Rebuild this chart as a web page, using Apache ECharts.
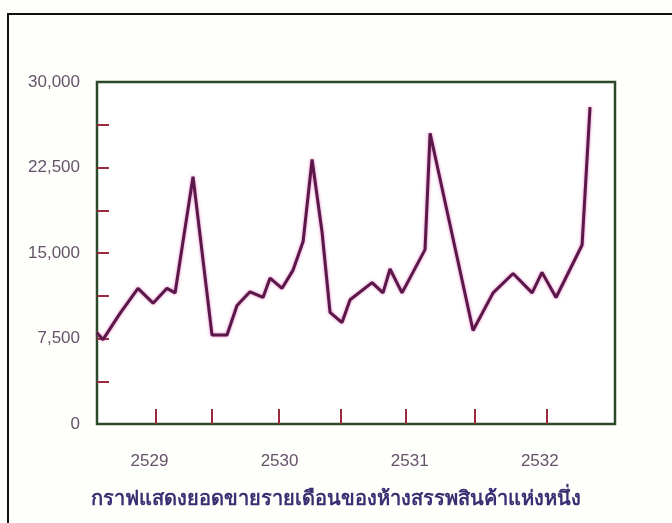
<!DOCTYPE html>
<html>
<head>
<meta charset="utf-8">
<script src="https://cdn.jsdelivr.net/npm/echarts@6/dist/echarts.min.js"></script>
<style>
  html, body { margin: 0; padding: 0; background: #fefefb; }
  #chart { width: 672px; height: 523px; }
</style>
</head>
<body>
<div id="chart"></div>
<script>
// Monthly sales, position along the time axis in Buddhist-era years
const months = [
  2528.597, 2528.643, 2528.774, 2528.912, 2529.028, 2529.135, 2529.197, 2529.335,
  2529.481, 2529.596, 2529.673, 2529.773, 2529.873, 2529.927, 2530.019, 2530.104,
  2530.181, 2530.250, 2530.327, 2530.388, 2530.480, 2530.542, 2530.711, 2530.795,
  2530.849, 2530.941, 2531.118, 2531.157, 2531.487, 2531.641, 2531.795, 2531.941,
  2532.017, 2532.125, 2532.325, 2532.386
];
const sales = [
  8000, 7400, 9700, 11900, 10600, 11900, 11500, 21700,
  7800, 7800, 10400, 11600, 11100, 12800, 11900, 13500,
  16000, 23200, 16800, 9800, 8900, 10900, 12400, 11500,
  13600, 11500, 15300, 25500, 8200, 11500, 13200, 11500,
  13300, 11100, 15700, 27800
];
const yearLabels = [2529, 2530, 2531, 2532];
const halfYearTicks = [2529.05, 2529.48, 2529.99, 2530.47, 2530.97, 2531.5, 2532.05];
const salesTicks = [0, 7500, 15000, 22500, 30000];
const salesTickMarks = [3750, 7500, 11250, 15000, 18750, 22500, 26250];
const caption = 'กราฟแสดงยอดขายรายเดือนของห้างสรรพสินค้าแห่งหนึ่ง';

const chart = echarts.init(document.getElementById('chart'), null, { renderer: 'canvas' });
const tickRed = '#9a2a3c';

chart.setOption({
  backgroundColor: '#fefefb',
  animation: false,
  title: {
    text: caption,
    left: 'center',
    top: 484,
    textStyle: {
      fontSize: 20,
      fontWeight: 'bold',
      color: '#3b2e72',
      fontFamily: 'Noto Sans, DejaVu Sans, sans-serif'
    }
  },
  graphic: [{
    type: 'rect',
    shape: { x: 8, y: 14, width: 700, height: 560 },
    style: { fill: null, stroke: '#111', lineWidth: 2 },
    silent: true
  }],
  grid: {
    left: 97, top: 82, right: 57, bottom: 99,
    show: true,
    backgroundColor: '#ffffff',
    borderColor: '#2b4a2b',
    borderWidth: 2.5
  },
  xAxis: {
    type: 'value',
    min: 2528.597,
    max: 2532.578,
    axisLine: { show: false },
    splitLine: { show: false },
    axisTick: {
      show: true, inside: true, length: 15,
      customValues: halfYearTicks,
      lineStyle: { color: tickRed, width: 2 }
    },
    axisLabel: {
      customValues: yearLabels,
      margin: 29,
      fontSize: 17,
      color: '#65536a',
      fontFamily: 'Liberation Sans, Arial, sans-serif',
      formatter: v => String(Math.round(v))
    }
  },
  yAxis: {
    type: 'value',
    min: salesTicks[0],
    max: salesTicks[salesTicks.length - 1],
    interval: 7500,
    axisLine: { show: false },
    splitLine: { show: false },
    axisTick: {
      show: true, inside: true, length: 12,
      customValues: salesTickMarks,
      lineStyle: { color: tickRed, width: 2 }
    },
    axisLabel: {
      margin: 17,
      fontSize: 17,
      color: '#65536a',
      fontFamily: 'Liberation Sans, Arial, sans-serif',
      formatter: v => v.toLocaleString('en-US')
    }
  },
  series: [{
    type: 'line',
    data: months.map((m, i) => [m, sales[i]]),
    symbol: 'none',
    lineStyle: {
      color: '#5a1848',
      width: 3,
      shadowColor: 'rgba(215, 60, 170, 0.7)',
      shadowBlur: 3
    }
  }]
});
</script>
</body>
</html>
